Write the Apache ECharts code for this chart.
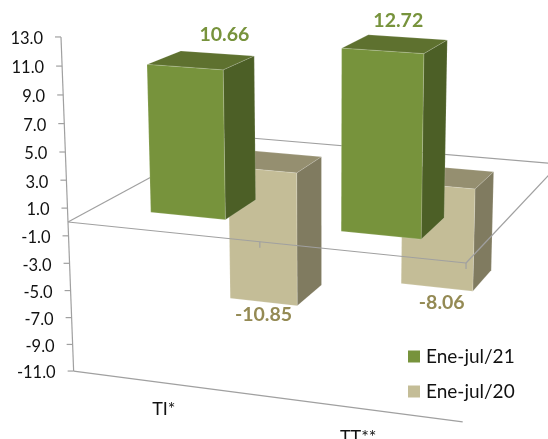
<!DOCTYPE html>
<html><head><meta charset="utf-8">
<style>html,body{margin:0;padding:0;background:#fff;overflow:hidden}#c{width:548px;height:439px}</style>
<script src="https://cdn.jsdelivr.net/npm/echarts@6/dist/echarts.min.js"></script>
</head><body><div id="c"></div>
<script>
const categories = ['TI*', 'TT**'];
const values21 = [10.66, 12.72];
const values20 = [-10.85, -8.06];
const yTicks = [13, 11, 9, 7, 5, 3, 1, -1, -3, -5, -7, -9, -11];
const seriesNames = ['Ene-jul/21', 'Ene-jul/20'];
const yMin = -11, yMax = 13;

const FONT = 'Lato, "Open Sans", sans-serif';
const GRID = {left: 68, top: 37, width: 398, height: 334};
const LINE = '#A0A0A0';
const GREEN = {front: '#77933C', top: '#5E712F', side: '#4C5F26', label: '#77933C'};
const TAN = {front: '#C4BD97', top: '#958F70', side: '#807B60', label: '#948A54'};
const label21Offsets = [[23, -25], [3, -23]];
const label20Offsets = [[0, 13], [5, 15]];
const catLabelDrop = [26, 29];

// perspective camera: u along categories (0..1), d depth (0..1), v axis value
function camera(u, d, v) {
  const w = 1 - 0.0696 * u + 0.2183 * d - 0.00205 * v;
  return [(68 + 365.6 * u + 208.6 * d - 0.664 * v) / w,
          (222 + 22.7 * u - 56.3 * d - 14.31 * v) / w];
}
// goes through the chart's own scales, then through the camera
function place(api, cat, off, value, d) {
  const p = api.coord([cat, value]);
  const band = api.size([1, 0])[0];
  const u = (p[0] + off * band - GRID.left) / GRID.width;
  const v = yMax - (p[1] - GRID.top) / GRID.height * (yMax - yMin);
  return camera(u, d, v);
}
function poly(points, fill) {
  return {type: 'polygon', shape: {points}, style: {fill, stroke: 'rgba(255,255,255,0.25)', lineWidth: 0.6}};
}
function seg(a, b, w) {
  return {type: 'line', shape: {x1: a[0], y1: a[1], x2: b[0], y2: b[1]}, style: {stroke: LINE, lineWidth: w || 1.2}};
}
function barRenderer(d0, d1, pal, offsets) {
  return function (params, api) {
    const cat = api.value(0), val = api.value(1);
    const hi = Math.max(val, 0), lo = Math.min(val, 0);
    const a = -0.2, b = 0.2;
    const P = (o, v, d) => place(api, cat, o, v, d);
    const front = poly([P(a, hi, d0), P(b, hi, d0), P(b, lo, d0), P(a, lo, d0)], pal.front);
    const top = poly([P(a, hi, d0), P(b, hi, d0), P(b, hi, d1), P(a, hi, d1)], pal.top);
    const side = poly([P(b, hi, d0), P(b, hi, d1), P(b, lo, d1), P(b, lo, d0)], pal.side);
    const anchor = val > 0 ? P(0, hi, (d0 + d1) / 2) : P(0, lo, d0);
    const off = offsets[params.dataIndex];
    const text = {type: 'text', style: {
      text: val.toFixed(2), x: anchor[0] + off[0], y: anchor[1] + off[1],
      align: 'center', verticalAlign: 'middle', fill: pal.label, font: 'bold 19.5px ' + FONT}};
    return {type: 'group', children: [top, side, front, text]};
  };
}
const backFrame = (params, api) => ({type: 'group', children: [
  seg(place(api, 0, -0.5, 0, 0), place(api, 0, -0.5, 0, 1)),
  seg(place(api, 0, -0.5, 0, 1), place(api, 1, 0.5, 0, 1))
]});
const frontFrame = (params, api) => {
  const f0 = place(api, 0, -0.5, 0, 0), f1 = place(api, 1, 0.5, 0, 0), mid = place(api, 0, 0.5, 0, 0);
  return {type: 'group', children: [
    seg(f0, f1), seg(f1, place(api, 1, 0.5, 0, 1)),
    seg(mid, [mid[0], mid[1] + 6]), seg(f1, [f1[0], f1[1] + 6]),
    seg(place(api, 0, -0.5, yMax, 0), place(api, 0, -0.5, yMin, 0)),
    seg(place(api, 0, -0.5, yMin, 0), place(api, 1, 0.5, yMin, 0))
  ]};
};
const tickRenderer = (params, api) => {
  const val = api.value(1);
  const p = place(api, 0, -0.5, val, 0);
  return {type: 'group', children: [
    seg(p, [p[0] - 6, p[1]]),
    {type: 'text', style: {text: val.toFixed(1), x: p[0] - 18, y: p[1] + 2, align: 'right', verticalAlign: 'middle',
      fill: '#111111', font: '16.5px ' + FONT}}
  ]};
};
const catRenderer = (params, api) => {
  const i = api.value(0);
  const p = place(api, i, 0, yMin, 0);
  return {type: 'text', style: {text: categories[i], x: p[0] - 2, y: p[1] + catLabelDrop[i], align: 'center', verticalAlign: 'middle',
    fill: '#111111', font: '18px ' + FONT}};
};

const chart = echarts.init(document.getElementById('c'), null, {renderer: 'canvas'});
chart.setOption({
  animation: false,
  backgroundColor: '#fff',
  grid: GRID,
  xAxis: {type: 'category', data: categories, show: false},
  yAxis: {type: 'value', min: yMin, max: yMax, interval: 2, show: false},
  legend: {
    data: seriesNames, orient: 'vertical', left: 408, top: 347, itemWidth: 12, itemHeight: 12, itemGap: 16,
    icon: 'rect', textStyle: {fontFamily: FONT, fontSize: 19, color: '#111111', padding: [0, 0, 0, 1]}, padding: 0
  },
  series: [
    {type: 'custom', name: 'back', z: 1, silent: true, data: [[0, 0]], renderItem: backFrame},
    {type: 'custom', name: seriesNames[1], z: 2, itemStyle: {color: TAN.front},
     data: values20.map((v, i) => [i, v]), encode: {x: 0, y: 1}, renderItem: barRenderer(0.65, 0.85, TAN, label20Offsets)},
    {type: 'custom', name: seriesNames[0], z: 3, itemStyle: {color: GREEN.front},
     data: values21.map((v, i) => [i, v]), encode: {x: 0, y: 1}, renderItem: barRenderer(0.15, 0.35, GREEN, label21Offsets)},
    {type: 'custom', name: 'front', z: 4, silent: true, data: [[0, 0]], renderItem: frontFrame},
    {type: 'custom', name: 'ticks', z: 4, silent: true, data: yTicks.map(t => [0, t]), encode: {x: 0, y: 1}, renderItem: tickRenderer},
    {type: 'custom', name: 'cats', z: 4, silent: true, data: categories.map((c, i) => [i, yMin]), encode: {x: 0, y: 1}, renderItem: catRenderer}
  ]
});
</script></body></html>
